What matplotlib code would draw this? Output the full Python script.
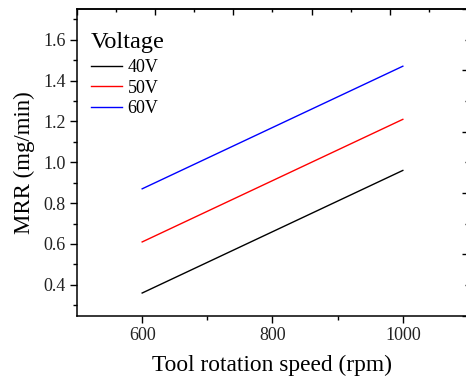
import matplotlib
matplotlib.use("Agg")
import matplotlib.pyplot as plt
from matplotlib.ticker import FixedLocator

speed = [600, 1000]
mrr_40 = [0.36, 0.96]
mrr_50 = [0.61, 1.21]
mrr_60 = [0.87, 1.47]
labels = ["40V", "50V", "60V"]
colors = ["black", "red", "blue"]

plt.rcParams['font.family'] = ['Liberation Serif', 'DejaVu Serif']

W, H = 466, 380
fig = plt.figure(figsize=(W / 100, H / 100), dpi=100)
left, right, top, bottom = 77, 468, 9, 315.5
ax = fig.add_axes([left / W, 1 - bottom / H, (right - left) / W, (bottom - top) / H])

for y, lab, c in zip([mrr_40, mrr_50, mrr_60], labels, colors):
    ax.plot(speed, y, color=c, lw=1.0, label=lab)

ax.set_xlim(500, 1100)
ax.set_ylim(0.25, 1.75)
for s in ax.spines.values():
    s.set_linewidth(1.1)

ax.xaxis.set_major_locator(FixedLocator([600, 800, 1000]))
ax.xaxis.set_minor_locator(FixedLocator([700, 900]))
ax.yaxis.set_major_locator(FixedLocator([0.4, 0.6, 0.8, 1.0, 1.2, 1.4, 1.6]))
ax.yaxis.set_minor_locator(FixedLocator([0.3, 0.5, 0.7, 0.9, 1.1, 1.3, 1.5, 1.7]))
ax.set_yticklabels(["0.4", "0.6", "0.8", "1.0", "1.2", "1.4", "1.6"])
ax.tick_params(axis='both', which='major', direction='out', length=5, width=1.0,
               labelsize=13, top=False, right=False, pad=3, labelcolor='#222222')
ax.tick_params(axis='both', which='minor', direction='out', length=2.8, width=1.0,
               top=False, right=False)

# top axis ticks (inward, no labels)
axt = ax.secondary_xaxis('top')
axt.xaxis.set_major_locator(FixedLocator([500, 620, 740, 860, 980, 1100]))
axt.xaxis.set_minor_locator(FixedLocator([560, 680, 800, 920, 1040]))
axt.tick_params(which='major', direction='in', length=4, width=1.0, labeltop=False)
axt.tick_params(which='minor', direction='in', length=2.5, width=1.0)
axt.spines['top'].set_linewidth(1.1)

axr = ax.secondary_yaxis('right')
axr.yaxis.set_major_locator(FixedLocator([0.25, 0.55, 0.85, 1.15, 1.45, 1.75]))
axr.yaxis.set_minor_locator(FixedLocator([0.4, 0.7, 1.0, 1.3, 1.6]))
axr.tick_params(which='major', direction='in', length=4, width=1.0, labelright=False)
axr.tick_params(which='minor', direction='in', length=2.5, width=1.0)

ax.set_xlabel("Tool rotation speed (rpm)", fontsize=16.8, labelpad=8)
ax.set_ylabel("MRR (mg/min)", fontsize=16.5, labelpad=6)

leg = ax.legend(title="Voltage", loc='upper left', frameon=False, fontsize=13,
                title_fontsize=17.5, handlelength=1.75, handletextpad=0.3,
                labelspacing=0.2, bbox_to_anchor=(0.012, 0.956), borderaxespad=0.3,
                borderpad=0.2)
leg._legend_box.align = "left"
leg._legend_box.sep = 4.8

fig.savefig("out.png", dpi=100)
